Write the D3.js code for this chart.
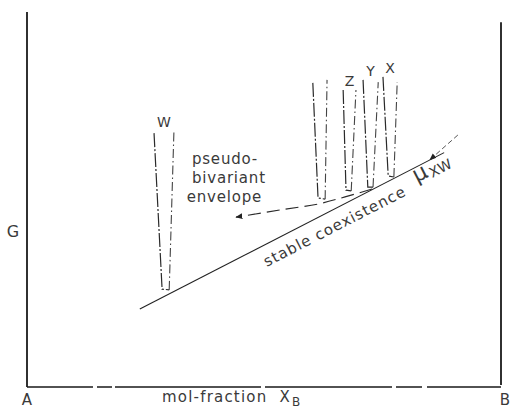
<!DOCTYPE html>
<html>
<head>
<meta charset="utf-8">
<script src="https://cdn.jsdelivr.net/npm/d3@7"></script>
<style>
  body { margin: 0; background: #fff; }
  text { font-family: "DejaVu Sans", sans-serif; fill: #3a3a3a; }
</style>
</head>
<body>
<svg id="chart" width="512" height="410"></svg>
<script>
// each phase curve: left top, left bottom, right bottom, right top
const phaseNames = ["W", "", "Z", "Y", "X"];
const phaseX = [
    [0.268, 0.285, 0.300, 0.310],
    [0.603, 0.614, 0.629, 0.633],
    [0.667, 0.673, 0.684, 0.694],
    [0.709, 0.719, 0.730, 0.741],
    [0.751, 0.762, 0.774, 0.781]
];
const phaseG = [
    [0.677, 0.261, 0.259, 0.683],
    [0.811, 0.504, 0.501, 0.819],
    [0.792, 0.525, 0.523, 0.792],
    [0.819, 0.533, 0.533, 0.813],
    [0.827, 0.563, 0.560, 0.813]
];

// stable coexistence line and its dashed continuation
const stableX = [0.238, 0.880];
const stableG = [0.208, 0.625];
const arrowX = [0.909, 0.850];
const arrowG = [0.672, 0.606];

// pseudo-bivariant envelope
const envelopeX = [0.728, 0.671, 0.614, 0.534, 0.441];
const envelopeG = [0.528, 0.507, 0.488, 0.472, 0.453];
const envelopeText = ["pseudo-", "bivariant", "envelope"];

const endLabels = ["A", "B"];

let width = 512;
let height = 410;

let svg = d3.select('#chart');

let x = d3.scaleLinear().domain([0, 1]).range([27, 501]);
let y = d3.scaleLinear().domain([0, 1]).range([387, 12]);

let line = d3.line()
    .x(d => x(d[0]))
    .y(d => y(d[1]));

svg.append('defs').append('marker')
    .attr('id', 'head')
    .attr('viewBox', '0 0 10 10')
    .attr('refX', 9)
    .attr('refY', 5)
    .attr('markerWidth', 7)
    .attr('markerHeight', 7)
    .attr('markerUnits', 'userSpaceOnUse')
    .attr('orient', 'auto')
    .append('path')
    .attr('d', 'M0,1 L10,5 L0,9 Z')
    .attr('fill', '#222');

// frame: left and right G axes, bottom composition axis
svg.append('line')
    .attr('x1', x(0)).attr('x2', x(0))
    .attr('y1', y(0)).attr('y2', y(1))
    .attr('stroke', '#1a1a1a').attr('stroke-width', 1.8);

svg.append('line')
    .attr('x1', x(1)).attr('x2', x(1))
    .attr('y1', y(0) - 2).attr('y2', y(0.973))
    .attr('stroke', '#1a1a1a').attr('stroke-width', 1.8);

svg.append('line')
    .attr('x1', x(0)).attr('x2', x(1))
    .attr('y1', y(0)).attr('y2', y(0))
    .attr('stroke', '#1a1a1a').attr('stroke-width', 1.6)
    .attr('stroke-dasharray', '66,4,15,3,146,4,127,4,26,5,75');

// phase curves
let phases = phaseNames.map((name, i) => ({
    name: name,
    pts: phaseX[i].map((v, j) => [v, phaseG[i][j]])
}));

let groups = svg.selectAll('g.phase')
    .data(phases)
    .join('g')
    .attr('class', 'phase');

groups.append('path')
    .attr('d', d => line(d.pts.slice(0, 3)))
    .attr('fill', 'none')
    .attr('stroke', '#2a2a2a')
    .attr('stroke-width', 1.2)
    .attr('stroke-dasharray', '14,2,2,2');

groups.append('path')
    .attr('d', d => line(d.pts.slice(2)))
    .attr('fill', 'none')
    .attr('stroke', '#444')
    .attr('stroke-width', 1.1)
    .attr('stroke-dasharray', '9,3,1.5,3');

groups.append('text')
    .text(d => d.name)
    .attr('x', d => x((d.pts[0][0] + d.pts[3][0]) / 2))
    .attr('y', d => y(Math.max(d.pts[0][1], d.pts[3][1])) - 4)
    .attr('text-anchor', 'middle')
    .attr('font-size', '14px');

// stable coexistence line
let stablePts = stableX.map((v, i) => [v, stableG[i]]);
svg.append('path')
    .attr('d', line(stablePts))
    .attr('fill', 'none')
    .attr('stroke', '#222')
    .attr('stroke-width', 1.1);

svg.append('path')
    .attr('d', line(arrowX.map((v, i) => [v, arrowG[i]])))
    .attr('fill', 'none')
    .attr('stroke', '#555')
    .attr('stroke-width', 1)
    .attr('stroke-dasharray', '5,3')
    .attr('marker-end', 'url(#head)');

// envelope with arrow
svg.append('path')
    .attr('d', line.curve(d3.curveCatmullRom)(envelopeX.map((v, i) => [v, envelopeG[i]])))
    .attr('fill', 'none')
    .attr('stroke', '#2a2a2a')
    .attr('stroke-width', 1.1)
    .attr('stroke-dasharray', '13,6')
    .attr('marker-end', 'url(#head)');
line.curve(d3.curveLinear);

svg.append('g')
    .selectAll('text')
    .data(envelopeText)
    .join('text')
    .text(d => d)
    .attr('x', (d, i) => i == 2 ? x(0.337) : x(0.348))
    .attr('y', (d, i) => y(0.595) + i * 19)
    .attr('font-size', '15px')
    .attr('letter-spacing', '0.8px');

// rotated labels along the stable line
let angle = Math.atan2(y(stableG[1]) - y(stableG[0]), x(stableX[1]) - x(stableX[0])) * 180 / Math.PI;

svg.append('text')
    .attr('transform', 'translate(' + x(0.506) + ',' + y(0.32) + ') rotate(' + angle + ')')
    .text('stable coexistence')
    .attr('font-size', '15px')
    .attr('letter-spacing', '1px');

let mu = svg.append('text')
    .attr('transform', 'translate(' + x(0.822) + ',' + y(0.545) + ') rotate(' + angle + ')')
    .attr('font-size', '22px');
mu.append('tspan').text('μ');
mu.append('tspan').text('XW').attr('font-size', '14px').attr('dx', 2).attr('dy', 3);

// axis names
svg.append('text')
    .text('G')
    .attr('x', 13)
    .attr('y', 237)
    .attr('text-anchor', 'middle')
    .attr('font-size', '16px');

svg.selectAll('text.end')
    .data(endLabels)
    .join('text')
    .attr('class', 'end')
    .text(d => d)
    .attr('x', (d, i) => x(i) + (i ? 4 : 0))
    .attr('y', 405)
    .attr('text-anchor', 'middle')
    .attr('font-size', '15px');

let xlab = svg.append('text')
    .attr('x', 162)
    .attr('y', 402)
    .attr('font-size', '15px')
    .attr('letter-spacing', '1.2px');
xlab.append('tspan').text('mol-fraction');
xlab.append('tspan').text('X').attr('dx', 12);
xlab.append('tspan').text('B').attr('font-size', '12px').attr('dy', 4).attr('dx', 1);
</script>
</body>
</html>
